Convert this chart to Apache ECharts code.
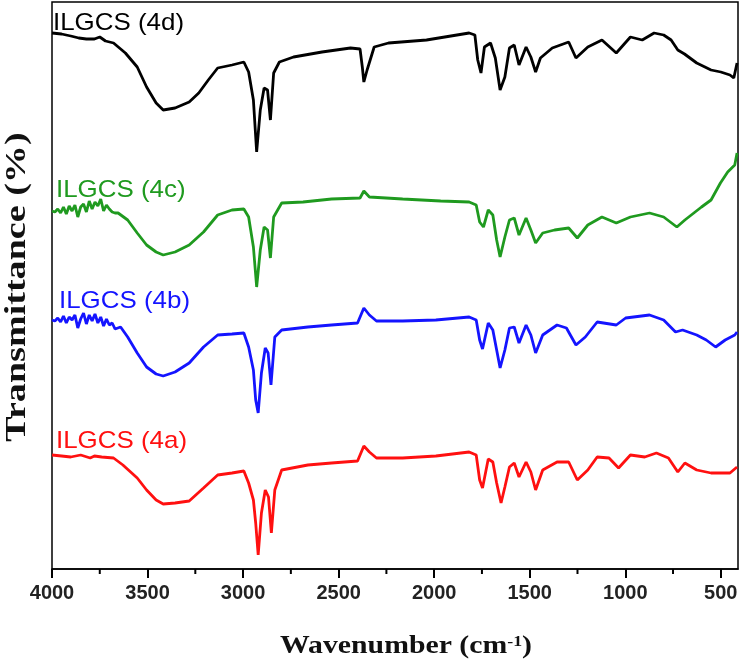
<!DOCTYPE html>
<html>
<head>
<meta charset="utf-8">
<script src="https://cdn.jsdelivr.net/npm/echarts@6/dist/echarts.min.js"></script>
<style>
  html, body { margin: 0; padding: 0; background: #fff; }
  #chart { width: 742px; height: 664px; }
</style>
</head>
<body>
<div id="chart"></div>
<script>
// FTIR spectra, wavenumber (cm-1) vs transmittance (arbitrary, curves stacked)
var seriesNames = ['ILGCS (4d)', 'ILGCS (4c)', 'ILGCS (4b)', 'ILGCS (4a)'];
var seriesColors = ['#000000', '#1f9a1f', '#1414ff', '#ff1010'];

var majorTicks = [500, 1000, 1500, 2000, 2500, 3000, 3500, 4000];
var minorTicks = [750, 1250, 1750, 2250, 2750, 3250, 3750];

var wn4d = [4000, 3950, 3902, 3860, 3820, 3778, 3750, 3720, 3678, 3616, 3554, 3505, 3455, 3418, 3356, 3282, 3232, 3182, 3133, 3058, 2996, 2971, 2946, 2929, 2910, 2890, 2872, 2857, 2840, 2810, 2736, 2587, 2438, 2388, 2376, 2368, 2351, 2314, 2239, 2040, 1817, 1787, 1772, 1755, 1737, 1705, 1680, 1655, 1630, 1606, 1581, 1556, 1519, 1494, 1469, 1444, 1382, 1296, 1258, 1196, 1122, 1047, 973, 911, 849, 799, 760, 725, 690, 626, 551, 500, 452, 432, 415];
var t4d = [536, 535, 533, 531, 530, 530, 532, 528, 526, 516, 502, 482, 466, 459, 461, 467, 476, 489, 501, 504, 507, 497, 469, 417, 459, 481, 479, 449, 496, 507, 512, 517, 521, 520, 502, 487, 499, 522, 526, 529, 536, 534, 509, 496, 522, 526, 511, 479, 492, 521, 524, 504, 522, 512, 497, 511, 521, 527, 511, 522, 529, 516, 532, 529, 536, 534, 529, 519, 515, 506, 499, 497, 494, 491, 506];

var wn4c = [4000, 3985, 3970, 3955, 3940, 3925, 3910, 3895, 3880, 3865, 3850, 3835, 3820, 3805, 3790, 3775, 3760, 3745, 3730, 3715, 3700, 3685, 3670, 3654, 3604, 3554, 3505, 3455, 3418, 3356, 3282, 3207, 3133, 3058, 2996, 2971, 2946, 2929, 2910, 2890, 2872, 2857, 2840, 2798, 2686, 2537, 2388, 2368, 2339, 2165, 1966, 1817, 1780, 1762, 1742, 1717, 1693, 1673, 1655, 1630, 1606, 1581, 1556, 1519, 1494, 1469, 1432, 1370, 1296, 1251, 1196, 1122, 1047, 973, 873, 799, 730, 688, 601, 551, 502, 464, 427, 415];
var t4c = [358, 357, 360, 356, 362, 355, 363, 358, 364, 352, 362, 365, 357, 368, 360, 367, 363, 370, 358, 364, 360, 357, 356, 356, 349, 336, 324, 317, 314, 317, 324, 337, 354, 359, 360, 352, 322, 282, 319, 342, 339, 311, 352, 366, 367, 370, 371, 378, 372, 370, 368, 367, 364, 347, 342, 359, 354, 329, 312, 332, 349, 351, 334, 351, 339, 326, 336, 339, 341, 331, 344, 352, 346, 352, 356, 352, 342, 349, 362, 369, 386, 397, 404, 416];

var wn4b = [4000, 3985, 3970, 3955, 3940, 3925, 3910, 3895, 3880, 3865, 3850, 3835, 3820, 3805, 3790, 3775, 3760, 3745, 3730, 3715, 3700, 3685, 3670, 3641, 3604, 3554, 3505, 3455, 3418, 3356, 3282, 3207, 3133, 3058, 2996, 2971, 2946, 2934, 2921, 2904, 2884, 2869, 2854, 2834, 2798, 2661, 2537, 2401, 2368, 2339, 2302, 2165, 1991, 1817, 1780, 1762, 1747, 1717, 1693, 1673, 1655, 1630, 1606, 1581, 1556, 1519, 1494, 1469, 1432, 1357, 1308, 1258, 1209, 1147, 1047, 998, 873, 799, 737, 700, 626, 576, 527, 477, 427, 415];
var t4b = [249, 248, 251, 247, 253, 246, 252, 249, 254, 241, 250, 256, 245, 254, 248, 255, 246, 252, 243, 250, 244, 246, 240, 242, 232, 216, 202, 195, 193, 197, 206, 222, 234, 235, 236, 222, 199, 169, 156, 196, 221, 216, 184, 232, 239, 242, 244, 246, 261, 254, 248, 248, 249, 252, 249, 229, 220, 246, 239, 219, 201, 219, 241, 242, 226, 244, 234, 216, 234, 244, 241, 224, 232, 247, 244, 251, 254, 249, 237, 239, 234, 229, 222, 229, 234, 237];

var wn4a = [4000, 3950, 3902, 3850, 3800, 3778, 3740, 3678, 3629, 3554, 3505, 3455, 3418, 3356, 3282, 3207, 3133, 3058, 2996, 2971, 2946, 2934, 2921, 2904, 2884, 2867, 2852, 2834, 2798, 2661, 2537, 2401, 2368, 2339, 2302, 2165, 1991, 1817, 1780, 1762, 1747, 1717, 1693, 1673, 1650, 1630, 1606, 1581, 1556, 1519, 1494, 1469, 1432, 1357, 1296, 1251, 1196, 1147, 1085, 1035, 973, 898, 837, 774, 725, 688, 626, 551, 452, 415];
var t4a = [114, 113, 112, 114, 111, 113, 112, 111, 104, 91, 79, 69, 65, 66, 68, 81, 94, 96, 98, 86, 69, 46, 14, 56, 79, 72, 36, 79, 99, 104, 106, 108, 123, 117, 111, 111, 113, 117, 114, 89, 81, 110, 107, 86, 66, 82, 102, 106, 92, 107, 97, 79, 99, 107, 107, 89, 99, 112, 111, 101, 114, 112, 116, 111, 97, 106, 99, 96, 96, 102];

var allWn = [wn4d, wn4c, wn4b, wn4a];
var allT = [t4d, t4c, t4b, t4a];
// label anchor: [left x, centre y] in pixels
var labelPos = [[53, 23], [56, 190], [59, 301], [56, 441]];

function pairs(xs, ys) {
  var out = [];
  for (var i = 0; i < xs.length; i++) {
    out.push([xs[i], ys[i]]);
  }
  return out;
}

var myChart = echarts.init(document.getElementById('chart'));

var series = [];
var graphics = [];
for (var k = 0; k < seriesNames.length; k++) {
  series.push({
    name: seriesNames[k],
    type: 'line',
    showSymbol: false,
    animation: false,
    lineStyle: { color: seriesColors[k], width: 2.8 },
    data: pairs(allWn[k], allT[k])
  });
  graphics.push({
    type: 'text',
    x: labelPos[k][0],
    y: labelPos[k][1],
    scaleX: 1.08,
    style: {
      text: seriesNames[k],
      font: '24px "Liberation Sans", Arial, sans-serif',
      fill: seriesColors[k],
      align: 'left',
      verticalAlign: 'middle'
    }
  });
}

// short minor ticks under the x axis, placed through the axis scale
series.push({
  name: 'minorTicks',
  type: 'custom',
  silent: true,
  clip: false,
  z: 5,
  encode: { x: 0, y: 1 },
  data: minorTicks.map(function (v) { return [v, 0]; }),
  renderItem: function (params, api) {
    var p = api.coord([api.value(0), api.value(1)]);
    return {
      type: 'line',
      shape: { x1: p[0], y1: p[1], x2: p[0], y2: p[1] + 5 },
      style: { stroke: '#000', lineWidth: 2 }
    };
  }
});

// axis titles (the original is stretched a little along the text)
graphics.push({
  type: 'text',
  x: 17,
  y: 287,
  rotation: Math.PI / 2,
  scaleX: 1.27,
  style: {
    text: 'Transmittance (%)',
    font: 'bold 30px "Liberation Serif", "Times New Roman", serif',
    fill: '#111',
    align: 'center',
    verticalAlign: 'middle'
  }
});
graphics.push({
  type: 'text',
  x: 406,
  y: 647,
  scaleX: 1.19,
  style: {
    text: '{a|Wavenumber (cm}{s|-1}{a|)}',
    align: 'center',
    verticalAlign: 'middle',
    rich: {
      a: { font: 'bold 25px "Liberation Serif", "Times New Roman", serif', fill: '#111' },
      s: { font: 'bold 15px "Liberation Serif", "Times New Roman", serif', fill: '#111', verticalAlign: 'top' }
    }
  }
});

var option = {
  backgroundColor: '#fff',
  animation: false,
  grid: {
    left: 52,
    right: 4,
    top: 2,
    bottom: 95,
    show: true,
    borderColor: '#000',
    borderWidth: 1.5
  },
  xAxis: {
    type: 'value',
    inverse: true,
    min: 410,
    max: 4000,
    axisLine: { show: true, onZero: false, lineStyle: { color: '#000', width: 1.5 } },
    splitLine: { show: false },
    axisTick: {
      show: true,
      customValues: majorTicks,
      length: 9,
      lineStyle: { color: '#000', width: 2 }
    },
    axisLabel: {
      customValues: majorTicks,
      formatter: function (v) { return String(v); },
      margin: 14,
      color: '#222',
      fontSize: 20,
      fontWeight: 'bold',
      fontFamily: '"Liberation Sans", Arial, sans-serif'
    }
  },
  yAxis: {
    type: 'value',
    min: 0,
    max: 567,
    axisLine: { show: false },
    axisTick: { show: false },
    axisLabel: { show: false },
    splitLine: { show: false }
  },
  graphic: graphics,
  series: series
};

option && myChart.setOption(option);
</script>
</body>
</html>
